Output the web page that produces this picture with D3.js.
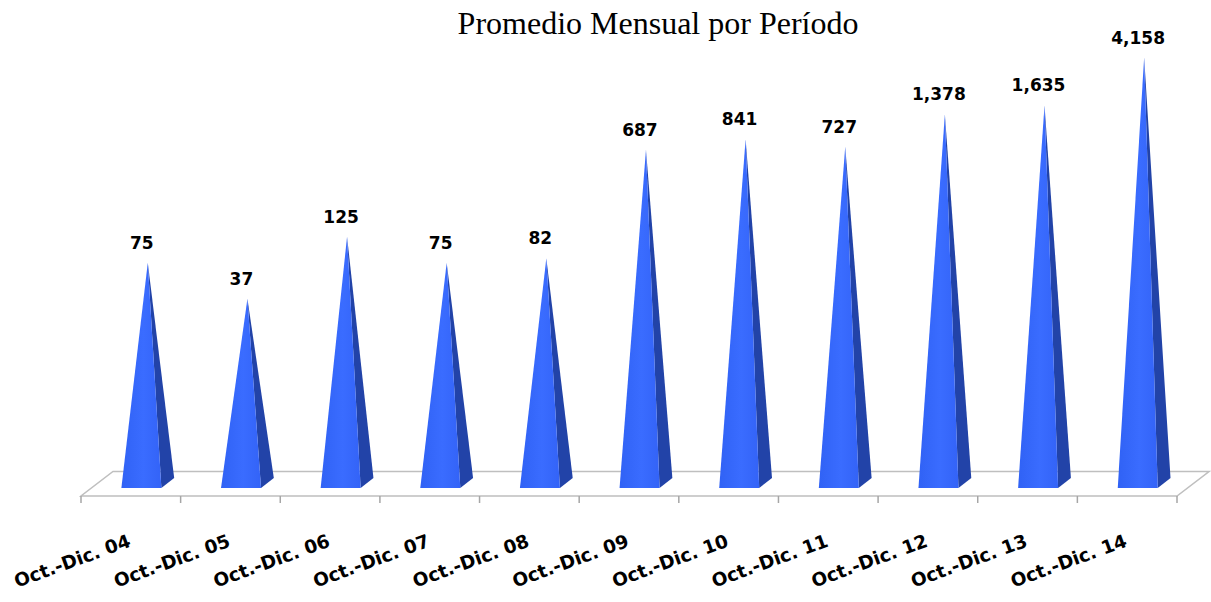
<!DOCTYPE html>
<html>
<head>
<meta charset="utf-8">
<script src="https://cdn.jsdelivr.net/npm/d3@7"></script>
<style>
  body { margin: 0; background: #fff; }
  .title { font-family: "Liberation Serif", "Times New Roman", serif; font-size: 32px; }
  .data-label { font-family: "Century Gothic", "DejaVu Sans", sans-serif; font-weight: bold; font-size: 17px; }
  .cat-label { font-family: "Century Gothic", "DejaVu Sans", sans-serif; font-weight: bold; font-size: 18.5px; }
</style>
</head>
<body>
<div class="chart"></div>
<script>
const categories = ["Oct.-Dic. 04", "Oct.-Dic. 05", "Oct.-Dic. 06", "Oct.-Dic. 07", "Oct.-Dic. 08",
    "Oct.-Dic. 09", "Oct.-Dic. 10", "Oct.-Dic. 11", "Oct.-Dic. 12", "Oct.-Dic. 13", "Oct.-Dic. 14"];
const values = [75, 37, 125, 75, 82, 687, 841, 727, 1378, 1635, 4158];
const title = "Promedio Mensual por Período";

const width = 1211;
const height = 602;

// floor geometry (front edge + depth vector)
const floorY = 496;
const depth = [32, -24.5];
const front = 0.33, back = 0.73;
const halfW = 20;

const svg = d3.select(".chart")
    .append("svg")
    .attr("width", width)
    .attr("height", height);

const x = d3.scaleBand()
    .domain(categories)
    .range([81, 1177]);

const h = d3.scaleLog()
    .domain([1, 10000])
    .range([0, 470]);

const fmt = d3.format(",");

svg.append("text")
    .attr("class", "title")
    .attr("x", 658)
    .attr("y", 34)
    .attr("text-anchor", "middle")
    .text(title);

// floor
const x0 = x.range()[0], x1 = x.range()[1];
svg.append("path")
    .attr("d", `M${x0},${floorY} L${x1},${floorY} L${x1 + depth[0]},${floorY + depth[1]} L${x0 + depth[0]},${floorY + depth[1]} Z`)
    .attr("fill", "white")
    .attr("stroke", "#bfbfbf")
    .attr("stroke-width", 1.5);

// tick marks
const tickX = categories.map(c => x(c)).concat([x1]);
svg.selectAll(".tick-mark")
    .data(tickX)
    .enter()
    .append("line")
    .attr("x1", d => d)
    .attr("x2", d => d)
    .attr("y1", floorY)
    .attr("y2", floorY + 7)
    .attr("stroke", "#a6a6a6")
    .attr("stroke-width", 1.5);

const defs = svg.append("defs");
const grad = defs.append("linearGradient")
    .attr("id", "frontGrad")
    .attr("x1", "0%").attr("x2", "100%").attr("y1", "0%").attr("y2", "0%");
grad.append("stop").attr("offset", "0%").attr("stop-color", "#3062f5");
grad.append("stop").attr("offset", "55%").attr("stop-color", "#3a6cff");
grad.append("stop").attr("offset", "100%").attr("stop-color", "#3363f7");

function geom(d, i){
    let c = x(categories[i]) + x.bandwidth() / 2;
    let fx = c + front * depth[0], fy = floorY + front * depth[1];
    let bx = c + back * depth[0], by = floorY + back * depth[1];
    let mid = (front + back) / 2;
    let ax = c + mid * depth[0];
    let ay = floorY + mid * depth[1] - h(d);
    return {fx, fy, bx, by, ax, ay};
}

const pyr = svg.selectAll(".pyramid")
    .data(values)
    .enter()
    .append("g")
    .attr("class", "pyramid");

pyr.append("path")
    .attr("d", function(d, i){
        let g = geom(d, i);
        return `M${g.fx + halfW},${g.fy} L${g.bx + halfW},${g.by} L${g.ax},${g.ay} Z`;
    })
    .attr("fill", "#2243a8");

pyr.append("path")
    .attr("d", function(d, i){
        let g = geom(d, i);
        return `M${g.fx - halfW},${g.fy} L${g.fx + halfW},${g.fy} L${g.ax},${g.ay} Z`;
    })
    .attr("fill", "url(#frontGrad)");

svg.selectAll(".data-label")
    .data(values)
    .enter()
    .append("text")
    .attr("class", "data-label")
    .attr("text-anchor", "middle")
    .attr("x", (d, i) => geom(d, i).ax - 6)
    .attr("y", (d, i) => geom(d, i).ay - 14)
    .text(d => fmt(d));

svg.selectAll(".cat-label")
    .data(categories)
    .enter()
    .append("text")
    .attr("class", "cat-label")
    .attr("text-anchor", "end")
    .attr("transform", d => `translate(${x(d) + x.bandwidth() / 2 + 1},546) rotate(-20)`)
    .text(d => d);
</script>
</body>
</html>
